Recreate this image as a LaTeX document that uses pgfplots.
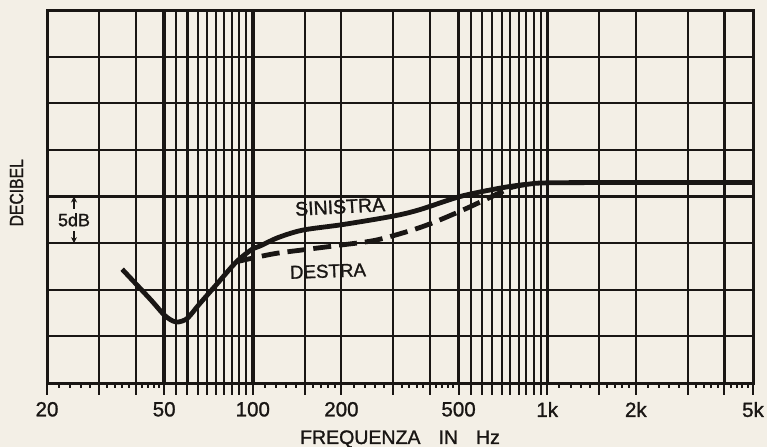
\documentclass[border=0pt]{standalone}
\usepackage{fontspec}
\setmainfont{Liberation Sans}[FakeBold=1.2]
\newfontfamily\narrowfont{Liberation Sans}[FakeStretch=0.83, FakeBold=1.2]
\usepackage{pgfplots}
\pgfplotsset{compat=1.18}
\usetikzlibrary{arrows.meta}
\definecolor{paper}{RGB}{243,239,230}
\definecolor{ink}{RGB}{25,22,20}
\begin{document}
\begin{tikzpicture}
\path[use as bounding box, fill=paper] (-23.5bp,-32bp) rectangle (360bp,191.5bp);
\begin{axis}[
  at={(0,0)}, anchor=south west,
  scale only axis, width=353bp, height=186.5bp,
  xmode=log, xmin=20, xmax=5000, ymin=0, ymax=40,
  axis line style={ink, line width=1.5bp},
  xtick={20,30,40,50,55,60,65,70,75,80,85,90,95,100,150,200,300,400,500,550,600,650,700,750,800,850,900,950,1000,1500,2000,3000,4000,5000},
  xticklabels={20,,,50,,,,,,,,,,100,,200,,,500,,,,,,,,,,1k,,2k,,,5k},
  minor xtick={22,24,26,28,32,34,36,38,42,44,46,48,110,120,130,140,160,170,180,190,220,240,260,280,320,340,360,380,420,440,460,480,1100,1200,1300,1400,1600,1700,1800,1900,2200,2400,2600,2800,3200,3400,3600,3800,4200,4400,4600,4800},
  xtick pos=left,
  tick align=outside,
  major tick length=6bp,
  minor tick length=2.5bp,
  x tick style={ink, line width=1bp},
  xmajorgrids,
  major grid style={ink, line width=1.05bp},
  extra x ticks={50,100,500,1000},
  extra x tick labels={},
  extra x tick style={grid=major, major grid style={ink, line width=1.7bp}, tick style={ink, line width=1.7bp}},
  ytick={0,5,...,40},
  yticklabels={},
  ymajorgrids,
  y tick style={draw=none},
  xticklabel style={font=\fontsize{10.3}{12}\selectfont, text=ink},
  xlabel={FREQUENZA\hspace{9bp}IN\hspace{9bp}Hz},
  xlabel style={font=\fontsize{9.8}{11}\selectfont, text=ink, at={(axis description cs:0.5,0)}, anchor=center, yshift=-28bp},
  ylabel={DECIBEL},
  ylabel style={font=\narrowfont\fontsize{9.5}{11}\selectfont, text=ink, at={(axis description cs:-0.0432,0.51)}, anchor=center},
]
\addplot[ink, line width=2.4bp, smooth, tension=0.5] coordinates {
(36,12.2) (44.8,9.0) (50,7.3) (53.5,6.65) (56,6.55) (60,6.95) (66,8.5) (75,10.5) (88,13.0) (100,14.4) (106,14.7) (122,15.6) (148,16.4) (203,17.0) (300,17.9) (370,18.6) (506,20.0) (692,20.9) (852,21.3) (1106,21.48) (5000,21.5)
};
\addplot[ink, line width=2.4bp, dash pattern=on 9bp off 4bp, smooth, tension=0.5] coordinates {
(88,13.0) (100,13.4) (120,13.9) (150,14.3) (200,14.8) (260,15.3) (340,16.3) (410,17.2) (530,18.7) (690,20.4) (760,21.0) (850,21.3)
};
\node[font=\fontsize{9.8}{11}\selectfont, text=ink, rotate=3] at (axis cs:198,18.9) {SINISTRA};
\node[font=\fontsize{9.4}{11}\selectfont, text=ink, rotate=2] at (axis cs:180,12.0) {DESTRA};
\node[font=\fontsize{9}{10}\selectfont, text=ink, fill=paper, inner sep=0.5bp] at (axis cs:24.7,17.5) {5dB};
\draw[ink, line width=0.9bp, -{Stealth[length=3bp,width=3bp]}] (axis cs:24.7,18.7) -- (axis cs:24.7,20);
\draw[ink, line width=0.9bp, -{Stealth[length=3bp,width=3bp]}] (axis cs:24.7,16.3) -- (axis cs:24.7,15);
\end{axis}
\end{tikzpicture}
\end{document}
